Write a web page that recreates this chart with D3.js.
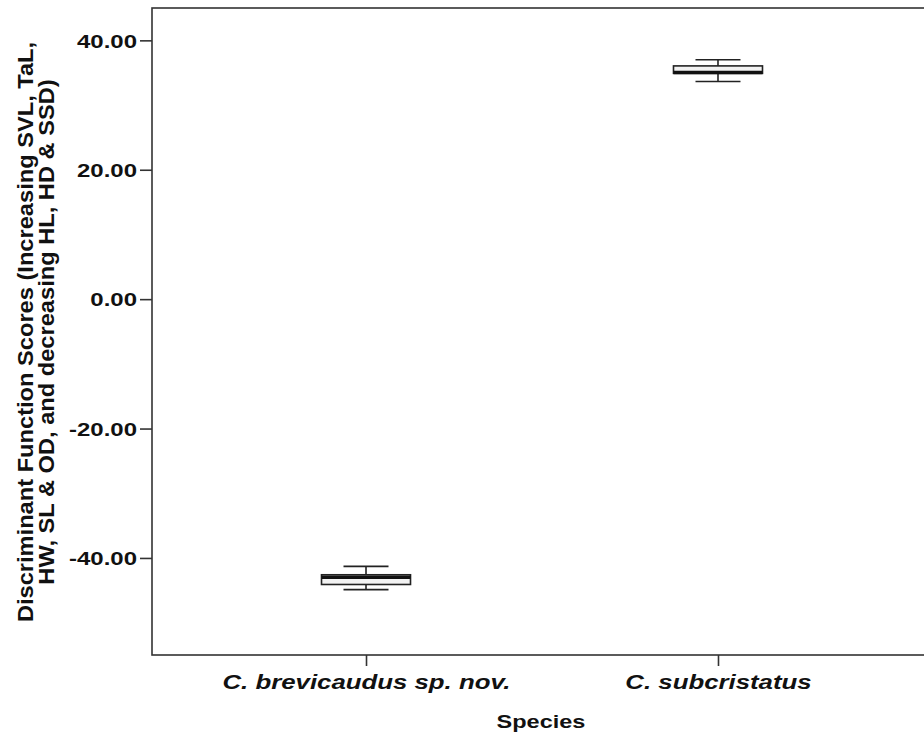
<!DOCTYPE html>
<html><head><meta charset="utf-8">
<script src="https://cdn.jsdelivr.net/npm/d3@7"></script>
<style>body{margin:0;background:#fff}svg{display:block}text{font-family:"Liberation Sans",Arial,sans-serif}</style>
</head><body>
<script>
const categories = ["C. brevicaudus sp. nov.", "C. subcristatus"];
const whiskerLow = [-44.9, 33.65];
const q1 = [-44.1, 34.9];
const median = [-43.0, 35.05];
const q3 = [-42.6, 36.05];
const whiskerHigh = [-41.3, 37.0];
const yTicks = [-40, -20, 0, 20, 40];

const W = 924, H = 738;
const mLeft = 152, mTop = 8, mBottom = 655, mRight = 932;
const squash = 0.78;
const svg = d3.select("body").append("svg").attr("width", W).attr("height", H);

const y = d3.scaleLinear().domain([-55, 45]).range([mBottom, mTop]);
const x = d3.scalePoint().domain(categories).range([mLeft, mRight]).padding(0.608);

// frame
svg.append("rect").attr("x", mLeft).attr("y", mTop).attr("width", mRight - mLeft).attr("height", mBottom - mTop)
  .attr("fill", "none").attr("stroke", "#333").attr("stroke-width", 1.6);

// y axis
const ya = svg.append("g").attr("transform", `translate(${mLeft},0)`)
  .call(d3.axisLeft(y).tickValues(yTicks).tickSize(12).tickPadding(3).tickFormat(d => d.toFixed(2)));
ya.select(".domain").remove();
ya.selectAll("line").attr("stroke", "#333").attr("stroke-width", 1.6);
ya.selectAll("text").attr("font-size", 24).attr("font-weight", "bold").attr("fill", "#111")
  .attr("dy", "0.36em").attr("transform", `scale(1,${squash})`);

// x axis
const xa = svg.append("g").attr("transform", `translate(0,${mBottom})`)
  .call(d3.axisBottom(x).tickSize(11));
xa.select(".domain").remove();
xa.selectAll("line").attr("stroke", "#333").attr("stroke-width", 1.6);
xa.selectAll("text").attr("font-size", 25.8).attr("font-weight", "bold").attr("font-style", "italic").attr("fill", "#111")
  .attr("y", 0).attr("dy", 0).attr("transform", `translate(0,34) scale(1,${squash})`);

// boxes
const boxW = 89, capW = 45;
const g = svg.append("g");
categories.forEach((c, i) => {
  const cx = x(c);
  const s = g.append("g").attr("stroke", "#222").attr("stroke-width", 1.6);
  s.append("line").attr("x1", cx).attr("x2", cx).attr("y1", y(whiskerHigh[i])).attr("y2", y(q3[i]));
  s.append("line").attr("x1", cx).attr("x2", cx).attr("y1", y(q1[i])).attr("y2", y(whiskerLow[i]));
  s.append("line").attr("x1", cx - capW / 2).attr("x2", cx + capW / 2).attr("y1", y(whiskerHigh[i])).attr("y2", y(whiskerHigh[i]));
  s.append("line").attr("x1", cx - capW / 2).attr("x2", cx + capW / 2).attr("y1", y(whiskerLow[i])).attr("y2", y(whiskerLow[i]));
  s.append("rect").attr("x", cx - boxW / 2).attr("width", boxW)
    .attr("y", y(q3[i])).attr("height", y(q1[i]) - y(q3[i])).attr("fill", "#f2f2f2");
  s.append("line").attr("x1", cx - boxW / 2).attr("x2", cx + boxW / 2)
    .attr("y1", y(median[i])).attr("y2", y(median[i])).attr("stroke-width", 3.5).attr("stroke", "#111");
});

// axis titles
svg.append("text").attr("transform", `translate(541,728) scale(1,${squash})`).attr("text-anchor", "middle")
  .attr("font-size", 23.5).attr("font-weight", "bold").attr("fill", "#111").text("Species");
const yt = svg.append("text").attr("transform", `translate(0,332) rotate(-90) scale(1.1,1)`)
  .attr("text-anchor", "middle").attr("font-size", 21.5).attr("font-weight", "bold").attr("fill", "#111");
yt.append("tspan").attr("x", 0).attr("y", 33).text("Discriminant Function Scores (Increasing SVL, TaL,");
yt.append("tspan").attr("x", 0).attr("y", 54).text("HW, SL & OD, and decreasing HL, HD & SSD)");
</script>
</body></html>
